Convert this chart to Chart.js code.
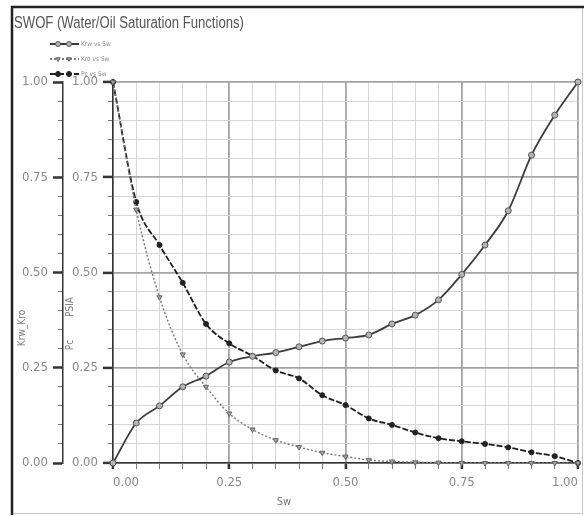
<!DOCTYPE html>
<html>
<head>
<meta charset="utf-8">
<script src="https://cdn.jsdelivr.net/npm/chart.js@4.4.1/dist/chart.umd.min.js"></script>
<style>
  html, body { margin: 0; padding: 0; background: #fff; }
  #wrap { width: 584px; height: 516px; }
</style>
</head>
<body>
<div id="wrap"><canvas id="swof-chart" width="584" height="516"></canvas></div>
<script>
// SWOF table, values
const sw  = [0.00, 0.05, 0.10, 0.15, 0.20, 0.25, 0.30, 0.35, 0.40, 0.45, 0.50,
             0.55, 0.60, 0.65, 0.70, 0.75, 0.80, 0.85, 0.90, 0.95, 1.00];
const krw = [0.000, 0.105, 0.150, 0.200, 0.228, 0.265, 0.280, 0.290, 0.305, 0.320, 0.328,
             0.336, 0.365, 0.388, 0.428, 0.495, 0.572, 0.662, 0.808, 0.913, 1.000];
const kro = [1.000, 0.665, 0.435, 0.285, 0.200, 0.130, 0.088, 0.060, 0.042, 0.027, 0.017,
             0.008, 0.004, 0.002, 0.001, 0.000, 0.000, 0.000, 0.000, 0.000, 0.000];
const pc  = [1.000, 0.685, 0.572, 0.473, 0.365, 0.314, 0.281, 0.243, 0.222, 0.178, 0.152,
             0.117, 0.100, 0.080, 0.065, 0.057, 0.050, 0.041, 0.028, 0.018, 0.000];
const majorTicks = [0.00, 0.25, 0.50, 0.75, 1.00];
const seriesNames = ["Krw vs Sw", "Kro vs Sw", "Pc vs Sw"];

const CONDENSED = '"DejaVu Sans Condensed", "Liberation Sans", sans-serif';
const ARIAL = '"Liberation Sans", Arial, sans-serif';
Chart.defaults.font.family = CONDENSED;

function isMajor(v) {
  return majorTicks.some(m => Math.abs(m - v) < 1e-6);
}
function tickLabel(v) {
  return isMajor(v) ? Number(v).toFixed(2) : "";
}
const gridColor = ctx => (ctx.tick && isMajor(ctx.tick.value)) ? "#a4a4a4" : "#d6d6d6";
const gridWidth = ctx => (ctx.tick && isMajor(ctx.tick.value)) ? 1.8 : 1;
const tickColor = ctx => (ctx.tick && isMajor(ctx.tick.value)) ? "#333" : "#777";
const tickWidth = ctx => (ctx.tick && isMajor(ctx.tick.value)) ? 2.5 : 1;
// minor ticks only show the half next to the axis line
const tickDash = ctx => (ctx.tick && isMajor(ctx.tick.value)) ? [] : [5, 5];

function points(values) {
  return sw.map((x, i) => ({ x: x, y: values[i] }));
}

// frame, title, legend and axis titles
const decorations = {
  id: "decorations",
  beforeDraw(chart) {
    const c = chart.ctx;
    c.save();
    c.fillStyle = "#fff";
    c.fillRect(0, 0, chart.width, chart.height);
    c.restore();
  },
  afterDraw(chart) {
    const c = chart.ctx;
    c.save();

    c.strokeStyle = "#c4c4c4";
    c.lineWidth = 1;
    c.strokeRect(12.5, 7.5, 570, 506);
    c.strokeStyle = "#222";
    c.lineWidth = 2.5;
    c.beginPath();
    c.moveTo(12, 515);
    c.lineTo(12, 7);
    c.lineTo(584, 7);
    c.stroke();

    // title in a narrow face: Arial metrics squeezed sideways
    c.save();
    c.fillStyle = "#555";
    c.font = "16px " + ARIAL;
    c.textBaseline = "middle";
    c.translate(14, 24);
    c.scale(0.82, 1);
    c.fillText("SWOF (Water/Oil Saturation Functions)", 0, 0);
    c.restore();

    c.textBaseline = "middle";
    chart.data.datasets.forEach((ds, i) => {
      const y = 44 + i * 15;
      c.strokeStyle = ds.borderColor;
      c.lineWidth = 2;
      c.setLineDash(ds.borderDash || []);
      c.beginPath();
      c.moveTo(50, y);
      c.lineTo(79, y);
      c.stroke();
      c.setLineDash([]);
      c.fillStyle = ds.pointBackgroundColor;
      c.strokeStyle = ds.pointBorderColor;
      c.lineWidth = 1;
      [58, 69].forEach(x => {
        Chart.helpers.drawPoint(c, {
          pointStyle: ds.pointStyle, radius: 2.5,
          rotation: ds.pointRotation || 0, borderWidth: 1
        }, x, y);
      });
      c.fillStyle = "#888";
      c.font = "6.5px " + CONDENSED;
      c.textAlign = "left";
      c.fillText(ds.label, 81, y);
    });

    c.fillStyle = "#777";
    c.textAlign = "center";
    c.font = "11px " + CONDENSED;
    c.fillText("Sw", 284, 502);

    c.font = "10px " + CONDENSED;
    [["Krw_Kro", 22, 328], ["PSIA", 70, 307], ["Pc", 70, 345]].forEach(t => {
      c.save();
      c.translate(t[1], t[2]);
      c.rotate(-Math.PI / 2);
      c.fillText(t[0], 0, 0);
      c.restore();
    });
    c.restore();
  }
};

const ctx = document.getElementById("swof-chart").getContext("2d");
const swofChart = new Chart(ctx, {
  type: "line",
  data: {
    datasets: [{
      label: seriesNames[0],
      data: points(krw),
      borderColor: "#3c3c3c",
      borderWidth: 1.8,
      pointStyle: "circle",
      pointRadius: 3,
      pointBackgroundColor: "#b4b4b4",
      pointBorderColor: "#555",
      pointBorderWidth: 1,
      cubicInterpolationMode: "monotone",
      clip: false
    }, {
      label: seriesNames[1],
      data: points(kro),
      borderColor: "#777",
      borderWidth: 1.4,
      borderDash: [2, 2],
      pointStyle: "triangle",
      pointRotation: 180,
      pointRadius: 3,
      pointBackgroundColor: "#a4a4a4",
      pointBorderColor: "#666",
      pointBorderWidth: 1,
      cubicInterpolationMode: "monotone",
      clip: false
    }, {
      label: seriesNames[2],
      data: points(pc),
      borderColor: "#1e1e1e",
      borderWidth: 1.8,
      borderDash: [6, 2],
      pointStyle: "circle",
      pointRadius: 2.5,
      pointBackgroundColor: "#222",
      pointBorderColor: "#222",
      pointBorderWidth: 1,
      cubicInterpolationMode: "monotone",
      clip: false
    }]
  },
  options: {
    responsive: false,
    animation: false,
    layout: { padding: { top: 82, left: 14, right: 4, bottom: 0 } },
    plugins: {
      legend: { display: false },
      tooltip: { enabled: false }
    },
    scales: {
      x: {
        type: "linear",
        min: 0,
        max: 1,
        grid: { color: gridColor, lineWidth: gridWidth, tickLength: 6, tickColor: tickColor, tickWidth: tickWidth },
        border: { color: "#333", width: 1.5 },
        ticks: {
          stepSize: 0.05, autoSkip: false, maxRotation: 0, align: "inner",
          padding: 6, color: "#888", font: { size: 13 }, callback: tickLabel
        },
        afterFit: s => { s.height = 53; }
      },
      y: {
        position: "left",
        weight: 0,
        min: 0,
        max: 1,
        grid: {
          color: gridColor, lineWidth: gridWidth, tickLength: 10,
          tickColor: tickColor, tickWidth: tickWidth,
          tickBorderDash: tickDash, tickBorderDashOffset: 5
        },
        border: { color: "#333", width: 1.5 },
        ticks: { stepSize: 0.05, autoSkip: false, padding: 5, color: "#888", font: { size: 13 }, callback: tickLabel },
        afterFit: s => { s.width = 50; }
      },
      y2: {
        position: "left",
        weight: 1,
        min: 0,
        max: 1,
        grid: {
          drawOnChartArea: false, tickLength: 10,
          tickColor: tickColor, tickWidth: tickWidth,
          tickBorderDash: tickDash, tickBorderDashOffset: 5
        },
        border: { color: "#333", width: 1.5 },
        ticks: { stepSize: 0.05, autoSkip: false, padding: 5, color: "#888", font: { size: 13 }, callback: tickLabel },
        afterFit: s => { s.width = 49; }
      }
    }
  },
  plugins: [decorations]
});
</script>
</body>
</html>
